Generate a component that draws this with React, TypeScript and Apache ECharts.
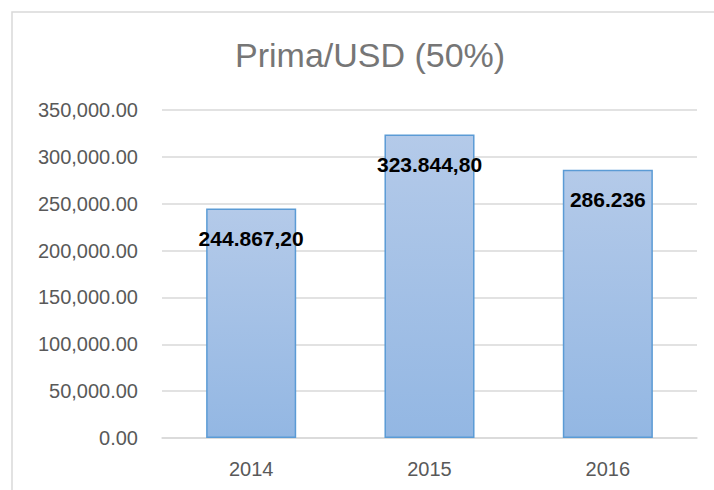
import React, { useEffect, useRef } from "react";
import * as echarts from "echarts";

const categories = ["2014", "2015", "2016"];
const values = [244867.2, 323844.8, 286236];
const barLabels = ["244.867,20", "323.844,80", "286.236"];
const yMin = 0;
const yMax = 350000;
const yInterval = 50000;
const titleText = "Prima/USD (50%)";

const FONT = "'Liberation Sans', Arial, sans-serif";

export default function App() {
  const ref = useRef<HTMLDivElement>(null);
  useEffect(() => {
    if (!ref.current) return;
    const chart = echarts.init(ref.current, undefined, { renderer: "svg" });
    chart.setOption({
      animation: false,
      backgroundColor: "#ffffff",
      title: {
        text: titleText,
        left: 235,
        top: 38,
        padding: 0,
        textStyle: {
          fontFamily: FONT,
          fontSize: 34,
          fontWeight: "normal",
          color: "#767676",
          lineHeight: 34,
        },
      },
      graphic: [
        {
          type: "rect",
          shape: { x: 12, y: 12, width: 900, height: 700 },
          style: { fill: "none", stroke: "#d9d9d9", lineWidth: 1.5 },
          silent: true,
          z: -1,
        },
      ],
      grid: { left: 162, right: 17, top: 110, bottom: 52, containLabel: false },
      xAxis: {
        type: "category",
        data: categories,
        axisLine: { show: true, lineStyle: { color: "#d9d9d9", width: 1.5 } },
        axisTick: { show: false },
        axisLabel: {
          margin: 21,
          fontFamily: FONT,
          fontSize: 20,
          color: "#595959",
        },
      },
      yAxis: {
        type: "value",
        min: yMin,
        max: yMax,
        interval: yInterval,
        axisLine: { show: false },
        axisTick: { show: false },
        splitLine: { lineStyle: { color: "#d9d9d9", width: 1.5 } },
        axisLabel: {
          margin: 24,
          fontFamily: FONT,
          fontSize: 20,
          color: "#595959",
          formatter: (v: number) =>
            v.toLocaleString("en-US", { minimumFractionDigits: 2, maximumFractionDigits: 2 }),
        },
      },
      series: [
        {
          type: "bar",
          data: values,
          barWidth: "50.5%",
          itemStyle: {
            color: new echarts.graphic.LinearGradient(0, 0, 0, 1, [
              { offset: 0, color: "#b4cae9" },
              { offset: 1, color: "#93b7e3" },
            ]),
            borderColor: "#5b9bd5",
            borderWidth: 1.5,
          },
          label: {
            show: true,
            position: "insideTop",
            distance: 19,
            fontFamily: FONT,
            fontSize: 21,
            fontWeight: "bold",
            color: "#000000",
            formatter: (p: any) => barLabels[p.dataIndex],
          },
        },
      ],
    });
    return () => chart.dispose();
  }, []);
  return (
    <div
      ref={ref}
      style={{ position: "fixed", left: 0, top: 0, width: 714, height: 490 }}
    />
  );
}
